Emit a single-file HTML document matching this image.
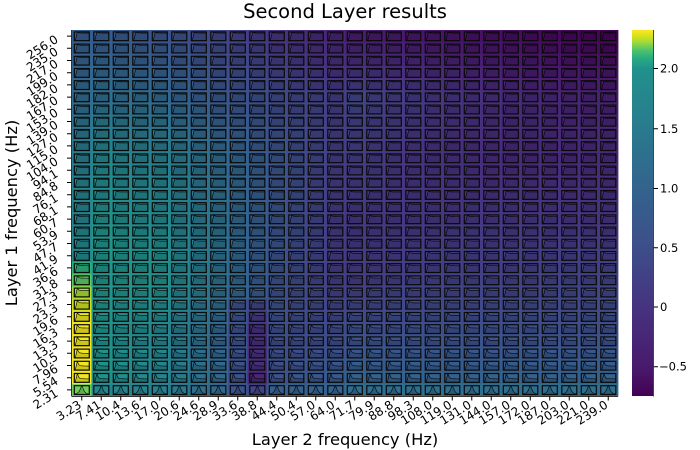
<!DOCTYPE html>
<html><head><meta charset="utf-8"><style>
html,body{margin:0;padding:0;background:#fff;}
svg{display:block;font-family:"DejaVu Sans","Liberation Sans",sans-serif;}
</style></head><body>
<svg id="s" width="700" height="450" viewBox="0 0 700 450" xmlns="http://www.w3.org/2000/svg">
<defs>
<linearGradient id="cb" x1="0" y1="0" x2="0" y2="1">
<stop offset="0" stop-color="#fde725"/>
<stop offset="0.016" stop-color="#d8e219"/>
<stop offset="0.033" stop-color="#a0da39"/>
<stop offset="0.055" stop-color="#4ec36b"/>
<stop offset="0.077" stop-color="#27ad81"/>
<stop offset="0.105" stop-color="#21918c"/>
<stop offset="0.27" stop-color="#297a8e"/>
<stop offset="0.434" stop-color="#33638d"/>
<stop offset="0.596" stop-color="#3d4e8a"/>
<stop offset="0.757" stop-color="#46337f"/>
<stop offset="0.921" stop-color="#481a6c"/>
<stop offset="1" stop-color="#440154"/>
</linearGradient>
<linearGradient id="fb" x1="0" y1="1" x2="1" y2="0">
<stop offset="0" stop-color="#21908d"/>
<stop offset="0.5" stop-color="#3e4a89"/>
<stop offset="1" stop-color="#440154"/>
</linearGradient>
</defs>
<rect width="700" height="450" fill="#fff"/>
<rect x="72" y="30" width="546" height="366" fill="url(#fb)"/>
<g id="hm"></g>

<!-- axes -->
<g stroke="#333" stroke-width="1" fill="none">
<path d="M72,396.5H618"/>
<path d="M71.5,30V396.5"/>
</g>
<g stroke="#000" stroke-width="1" fill="none" id="ticks">
<path d="M81.75,396v4.5M101.25,396v4.5M120.75,396v4.5M140.25,396v4.5M159.75,396v4.5M179.25,396v4.5M198.75,396v4.5M218.25,396v4.5M237.75,396v4.5M257.25,396v4.5M276.75,396v4.5M296.25,396v4.5M315.75,396v4.5M335.25,396v4.5M354.75,396v4.5M374.25,396v4.5M393.75,396v4.5M413.25,396v4.5M432.75,396v4.5M452.25,396v4.5M471.75,396v4.5M491.25,396v4.5M510.75,396v4.5M530.25,396v4.5M549.75,396v4.5M569.25,396v4.5M588.75,396v4.5M608.25,396v4.5"/>
<path d="M67,389.9h4.5M67,377.7h4.5M67,365.5h4.5M67,353.3h4.5M67,341.1h4.5M67,328.9h4.5M67,316.7h4.5M67,304.5h4.5M67,292.3h4.5M67,280.1h4.5M67,267.9h4.5M67,255.7h4.5M67,243.5h4.5M67,231.3h4.5M67,219.1h4.5M67,206.9h4.5M67,194.7h4.5M67,182.5h4.5M67,170.3h4.5M67,158.1h4.5M67,145.9h4.5M67,133.7h4.5M67,121.5h4.5M67,109.3h4.5M67,97.1h4.5M67,84.9h4.5M67,72.7h4.5M67,60.5h4.5M67,48.3h4.5M67,36.1h4.5"/>
</g>

<!-- x tick labels -->
<g font-size="12" text-anchor="end" fill="#000">
<text transform="translate(82.25 407) rotate(-32)">3.23</text>
<text transform="translate(101.75 407) rotate(-32)">7.41</text>
<text transform="translate(121.25 407) rotate(-32)">10.4</text>
<text transform="translate(140.75 407) rotate(-32)">13.6</text>
<text transform="translate(160.25 407) rotate(-32)">17.0</text>
<text transform="translate(179.75 407) rotate(-32)">20.6</text>
<text transform="translate(199.25 407) rotate(-32)">24.6</text>
<text transform="translate(218.75 407) rotate(-32)">28.9</text>
<text transform="translate(238.25 407) rotate(-32)">33.6</text>
<text transform="translate(257.75 407) rotate(-32)">38.8</text>
<text transform="translate(277.25 407) rotate(-32)">44.4</text>
<text transform="translate(296.75 407) rotate(-32)">50.4</text>
<text transform="translate(316.25 407) rotate(-32)">57.0</text>
<text transform="translate(335.75 407) rotate(-32)">64.0</text>
<text transform="translate(355.25 407) rotate(-32)">71.7</text>
<text transform="translate(374.75 407) rotate(-32)">79.9</text>
<text transform="translate(394.25 407) rotate(-32)">88.8</text>
<text transform="translate(413.75 407) rotate(-32)">98.3</text>
<text transform="translate(433.25 407) rotate(-32)">108.0</text>
<text transform="translate(452.75 407) rotate(-32)">119.0</text>
<text transform="translate(472.25 407) rotate(-32)">131.0</text>
<text transform="translate(491.75 407) rotate(-32)">144.0</text>
<text transform="translate(511.25 407) rotate(-32)">157.0</text>
<text transform="translate(530.75 407) rotate(-32)">172.0</text>
<text transform="translate(550.25 407) rotate(-32)">187.0</text>
<text transform="translate(569.75 407) rotate(-32)">203.0</text>
<text transform="translate(589.25 407) rotate(-32)">221.0</text>
<text transform="translate(608.75 407) rotate(-32)">239.0</text>
</g>

<!-- y tick labels -->
<g font-size="12" text-anchor="end" fill="#000">
<text transform="translate(59 395.4) rotate(-32)">2.31</text>
<text transform="translate(59 383.2) rotate(-32)">5.54</text>
<text transform="translate(59 371) rotate(-32)">7.96</text>
<text transform="translate(59 358.8) rotate(-32)">10.5</text>
<text transform="translate(59 346.6) rotate(-32)">13.3</text>
<text transform="translate(59 334.4) rotate(-32)">16.3</text>
<text transform="translate(59 322.2) rotate(-32)">19.6</text>
<text transform="translate(59 310) rotate(-32)">23.3</text>
<text transform="translate(59 297.8) rotate(-32)">27.3</text>
<text transform="translate(59 285.6) rotate(-32)">31.8</text>
<text transform="translate(59 273.4) rotate(-32)">36.6</text>
<text transform="translate(59 261.2) rotate(-32)">41.9</text>
<text transform="translate(59 249) rotate(-32)">47.7</text>
<text transform="translate(59 236.8) rotate(-32)">53.9</text>
<text transform="translate(59 224.6) rotate(-32)">60.7</text>
<text transform="translate(59 212.4) rotate(-32)">68.1</text>
<text transform="translate(59 200.2) rotate(-32)">76.1</text>
<text transform="translate(59 188) rotate(-32)">84.8</text>
<text transform="translate(59 175.8) rotate(-32)">94.1</text>
<text transform="translate(59 163.6) rotate(-32)">104.0</text>
<text transform="translate(59 151.4) rotate(-32)">115.0</text>
<text transform="translate(59 139.2) rotate(-32)">127.0</text>
<text transform="translate(59 127) rotate(-32)">139.0</text>
<text transform="translate(59 114.8) rotate(-32)">153.0</text>
<text transform="translate(59 102.6) rotate(-32)">167.0</text>
<text transform="translate(59 90.4) rotate(-32)">182.0</text>
<text transform="translate(59 78.2) rotate(-32)">199.0</text>
<text transform="translate(59 66) rotate(-32)">217.0</text>
<text transform="translate(59 53.8) rotate(-32)">235.0</text>
<text transform="translate(59 41.6) rotate(-32)">256.0</text>
</g>

<!-- titles -->
<text x="345" y="18" font-size="19.5" text-anchor="middle" fill="#000">Second Layer results</text>
<text x="345" y="445" font-size="16.3" text-anchor="middle" fill="#000">Layer 2 frequency (Hz)</text>
<text transform="translate(17 213) rotate(-90)" font-size="16.3" text-anchor="middle" fill="#000">Layer 1 frequency (Hz)</text>

<!-- colorbar -->
<rect x="632" y="30" width="21" height="366" fill="url(#cb)"/>
<path d="M653.5,30V396.5" stroke="#444" stroke-width="1"/>
<path d="M653.5,68.5h4.5M653.5,128.8h4.5M653.5,188.5h4.5M653.5,247.8h4.5M653.5,307h4.5M653.5,366.7h4.5" stroke="#000" stroke-width="1"/>
<g font-size="11.5" fill="#000">
<text x="660" y="72.5">2.0</text>
<text x="660" y="132.8">1.5</text>
<text x="660" y="192.5">1.0</text>
<text x="660" y="251.8">0.5</text>
<text x="660" y="311">0</text>
<text x="659" y="370.7">−0.5</text>
</g>
</svg>
<script>
(function(){
const V=['#440154','#471365','#482475','#463480','#414487','#3b528b','#355f8d','#2f6c8e','#2a788e','#25848e','#21918c','#1e9c89','#22a884','#2fb47c','#44bf70','#5ec962','#7ad151','#9bd93c','#bddf26','#dfe318','#fde725'];
function hex(h){return [parseInt(h.substr(1,2),16),parseInt(h.substr(3,2),16),parseInt(h.substr(5,2),16)];}
function vir(t){t=Math.max(0,Math.min(1,t));let i=Math.min(19,Math.floor(t/0.05));let f=(t-i*0.05)/0.05;let a=hex(V[i]),b=hex(V[i+1]);return 'rgb('+a.map((v,k)=>Math.round(v+(b[k]-v)*f)).join(',')+')';}
const CR=[0,1,4,9,14,19,24,29];
const CC=[1,4,7,10,13,14,18,22,27];
const T={
29:[0.29,0.26,0.21,0.15,0.10,0.08,0.06,0.035,0.01],
24:[0.36,0.34,0.27,0.22,0.18,0.20,0.16,0.12,0.09],
19:[0.46,0.43,0.35,0.26,0.18,0.18,0.14,0.12,0.12],
14:[0.50,0.47,0.37,0.26,0.17,0.16,0.16,0.16,0.15],
9:[0.52,0.50,0.37,0.25,0.18,0.18,0.19,0.19,0.20],
4:[0.50,0.45,0.32,0.23,0.23,0.25,0.25,0.25,0.25],
1:[0.50,0.45,0.34,0.25,0.28,0.31,0.31,0.31,0.31],
0:[0.46,0.43,0.33,0.30,0.32,0.36,0.36,0.36,0.36]};
const C0=[.78,.98,.98,.98,.98,.98,.97,.93,.87,.75,.64,.47,.46,.46,.45,.45,.44,.44,.43,.42,.41,.39,.38,.36,.35,.34,.32,.31,.30,.29];
const C9=[.20,.11,.13,.13,.13,.14,.17,.20];
function seg(arr,v){for(let i=0;i<arr.length-1;i++){if(v<=arr[i+1])return [i,(v-arr[i])/(arr[i+1]-arr[i])];}return [arr.length-2,1];}
function tval(c,r){
 if(c==0) return C0[r];
 if(c==9&&r<=7) return C9[r];
 if(c==8&&r<=7) return 0.25;
 const s1=seg(CR,r),s2=seg(CC,c);
 const a=T[CR[s1[0]]],b=T[CR[s1[0]+1]];
 const ci=s2[0],cf=s2[1];
 const va=a[ci]+(a[ci+1]-a[ci])*cf, vb=b[ci]+(b[ci+1]-b[ci])*cf;
 return va+(vb-va)*s1[1];
}
const XS=[0,0.06,0.1,0.14,0.18,0.2,0.22,0.25,0.28,0.32,0.36,0.4,0.45,0.5,0.55,0.6,0.7,0.8,0.9,1];
function shape(r){
 const pts=[];
 if(r==0){for(let i=0;i<=24;i++){const x=i/24;pts.push([x,0.97/(1+Math.pow((x-0.5)/0.13,2))]);}}
 else{const L=0.9-0.6*Math.exp(-r/6),x0=0.2;
  for(const x of XS){let h;if(x<x0){h=Math.max(0,(x-0.06)/(x0-0.06));}else{h=L+(1-L)/(1+Math.pow((x-x0)/0.07,2));}pts.push([x,h*0.97]);}}
 return pts;
}
const cw=19.5,ch=12.2,bw=15,bh=8.8,bxo=2.3,byo=1.9;
let bg='',fg='';
for(let r=0;r<30;r++){
 const sh=shape(r);
 for(let c=0;c<28;c++){
  const x0=72+c*cw,y0=30+(29-r)*ch;
  bg+='<rect x="'+x0.toFixed(2)+'" y="'+y0.toFixed(2)+'" width="'+(cw+0.4).toFixed(2)+'" height="'+(ch+0.4).toFixed(2)+'" fill="'+vir(tval(c,r))+'"/>';
  const bx=x0+bxo,by=y0+byo;
  let d='M'+bx.toFixed(2)+','+(by+bh).toFixed(2);
  for(const p of sh){d+='L'+(bx+p[0]*bw).toFixed(2)+','+(by+bh-p[1]*bh).toFixed(2);}
  d+='L'+(bx+bw).toFixed(2)+','+(by+bh).toFixed(2)+'Z';
  fg+='<path d="'+d+'" fill="rgba(0,0,0,0.15)" stroke="#000" stroke-width="0.6"/>';
  fg+='<rect x="'+bx.toFixed(2)+'" y="'+by.toFixed(2)+'" width="'+bw+'" height="'+bh+'" fill="none" stroke="#0a0a0a" stroke-width="1.2"/>';
 }
}
document.getElementById('hm').innerHTML=bg+fg;
})();
</script>
</body></html>
